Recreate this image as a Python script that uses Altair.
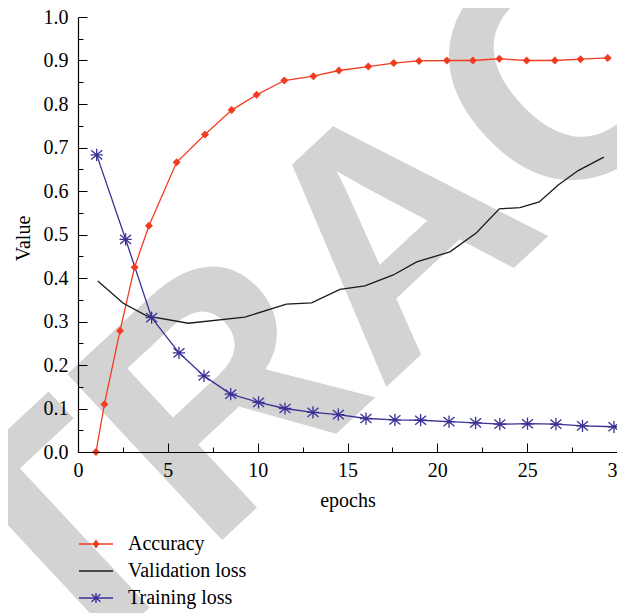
import altair as alt
import pandas as pd

# ---- data ----
series_names = ["Accuracy", "Validation loss", "Training loss"]
series_colors = ["#f23c22", "#1a1a1a", "#3a3196"]

acc_x = [1.0, 1.47, 2.34, 3.15, 3.95, 5.49, 7.07, 8.55, 9.94, 11.48, 13.1,
         14.52, 16.16, 17.57, 18.98, 20.53, 21.98, 23.45, 24.97, 26.54, 27.97, 29.48]
acc_y = [0.0, 0.11, 0.279, 0.425, 0.52, 0.666, 0.73, 0.786, 0.821, 0.854, 0.864,
         0.877, 0.886, 0.894, 0.899, 0.900, 0.900, 0.904, 0.900, 0.900, 0.903, 0.906]

val_x = [1.1, 2.52, 3.82, 6.14, 9.29, 11.6, 13.0, 14.58, 15.97, 17.55, 18.85,
         20.7, 22.18, 23.45, 24.6, 25.67, 26.73, 27.84, 29.27]
val_y = [0.393, 0.342, 0.313, 0.296, 0.31, 0.340, 0.343, 0.374, 0.382, 0.407, 0.437,
         0.460, 0.504, 0.559, 0.562, 0.575, 0.614, 0.647, 0.678]

tr_x = [1.04, 2.65, 4.1, 5.62, 7.01, 8.5, 10.05, 11.52, 13.08, 14.49, 16.03,
        17.64, 19.07, 20.65, 22.13, 23.48, 25.02, 26.6, 28.08, 29.83]
tr_y = [0.683, 0.489, 0.309, 0.228, 0.175, 0.133, 0.114, 0.100, 0.091, 0.086, 0.077,
        0.074, 0.073, 0.070, 0.067, 0.064, 0.065, 0.064, 0.060, 0.058]

x_ticks = [0, 2.5, 5, 7.5, 10, 12.5, 15, 17.5, 20, 22.5, 25, 27.5, 30]
y_ticks = [0.0, 0.05, 0.1, 0.15, 0.2, 0.25, 0.3, 0.35, 0.4, 0.45, 0.5, 0.55,
           0.6, 0.65, 0.7, 0.75, 0.8, 0.85, 0.9, 0.95, 1.0]

watermark = "RETRACTED"

rows = []
for name, xs, ys in [("Accuracy", acc_x, acc_y),
                     ("Validation loss", val_x, val_y),
                     ("Training loss", tr_x, tr_y)]:
    for i, (xv, yv) in enumerate(zip(xs, ys)):
        rows.append({"series": name, "x": xv, "y": yv, "i": i})
df = pd.DataFrame(rows)
wm_df = pd.DataFrame({"t": [watermark]})

FONT = "Liberation Serif"

x_axis = alt.Axis(
    values=x_ticks,
    labelExpr="datum.value % 5 === 0 ? datum.label : ''",
    tickSize=alt.ExprRef("datum.value % 5 === 0 ? -9 : -5"),
    labelPadding=17, labelFlush=False,
    grid=False, domainColor="black", domainWidth=1.2,
    tickColor="black", tickWidth=1,
    labelFont=FONT, labelFontSize=20, labelColor="black",
    titleFont=FONT, titleFontSize=20, titleFontWeight="normal", titleColor="black",
    titleBaseline="alphabetic", titleY=54, titleX=269.5, titleAlign="center",
    zindex=1,
)
y_axis = alt.Axis(
    values=y_ticks,
    labelExpr="round(datum.value*100) % 10 === 0 ? format(datum.value, '.1f') : ''",
    tickSize=alt.ExprRef("round(datum.value*100) % 10 === 0 ? -9 : -5"),
    labelPadding=19, labelFlush=False,
    grid=False, domainColor="black", domainWidth=1.2,
    tickColor="black", tickWidth=1,
    labelFont=FONT, labelFontSize=20, labelColor="black",
    titleFont=FONT, titleFontSize=20, titleFontWeight="normal", titleColor="black",
    titleAngle=270, titleBaseline="middle", titleAlign="center",
    titleX=-55, titleY=221,
    zindex=1,
)

X = alt.X("x:Q", scale=alt.Scale(domain=[0, 30], nice=False, zero=False),
          axis=x_axis, title="epochs")
Y = alt.Y("y:Q", scale=alt.Scale(domain=[0, 1], nice=False), axis=y_axis, title="Value")

acc_path = "M-3.4,0H3.4M0,-0.65L0.5,0L0,0.65L-0.5,0Z"
val_path = "M-3.4,0H3.4"
tr_path = "M-3.4,0H3.4M0,-1V1M-0.9,-0.75L0.9,0.75M-0.9,0.75L0.9,-0.75"

shape_sig = (f"datum.value === '{series_names[0]}' ? '{acc_path}' : "
             f"datum.value === '{series_names[2]}' ? '{tr_path}' : '{val_path}'")
stroke_sig = (f"datum.value === '{series_names[0]}' ? '{series_colors[0]}' : "
              f"datum.value === '{series_names[2]}' ? '{series_colors[2]}' : '#444444'")
fill_sig = (f"datum.value === '{series_names[0]}' ? '{series_colors[0]}' : 'transparent'")

legend = alt.Legend(
    title=None, orient="none", legendX=8, legendY=517,
    direction="vertical", padding=0,
    labelFont=FONT, labelFontSize=20, labelColor="black",
    labelOffset=22, rowPadding=7,
    symbolSize=100, symbolStrokeWidth=1.4, symbolOpacity=1,
    symbolType=alt.ExprRef(shape_sig),
    symbolStrokeColor=alt.ExprRef(stroke_sig),
    symbolFillColor=alt.ExprRef(fill_sig),
)

color_scale = alt.Scale(domain=series_names, range=series_colors)

wm = alt.Chart(wm_df).mark_text(
    font="Liberation Sans", fontWeight="bold", fontSize=330, color="#d3d3d3",
    angle=317, align="center", baseline="alphabetic", dy=118,
).encode(text="t:N", x=alt.value(309), y=alt.value(208))

lines = alt.Chart(df).mark_line(strokeWidth=1.3).encode(
    x=X, y=Y,
    color=alt.Color("series:N", scale=color_scale, legend=legend),
    order="i:Q",
)

acc_pts = alt.Chart(df).transform_filter(
    alt.datum.series == "Accuracy"
).mark_point(shape="diamond", filled=True, size=64, opacity=1, strokeWidth=1).encode(
    x=X, y=Y,
    color=alt.Color("series:N", scale=color_scale, legend=None),
)

tr_pts = alt.Chart(df).transform_filter(
    alt.datum.series == "Training loss"
).mark_point(shape="M0,-1V1M-0.9,-0.75L0.9,0.75M-0.9,0.75L0.9,-0.75M-1,0H1",
             filled=False, size=150, opacity=1, strokeWidth=1.3).encode(
    x=X, y=Y,
    color=alt.Color("series:N", scale=color_scale, legend=None),
)

chart = alt.layer(wm, lines, acc_pts, tr_pts).properties(
    width=539, height=435,
    autosize=alt.AutoSizeParams(type="none"),
    padding={"left": 70, "top": 9, "right": 0, "bottom": 161},
    background="white",
).configure_view(stroke=None)

chart.save("out.html", embed_options={"renderer": "svg", "actions": False})
